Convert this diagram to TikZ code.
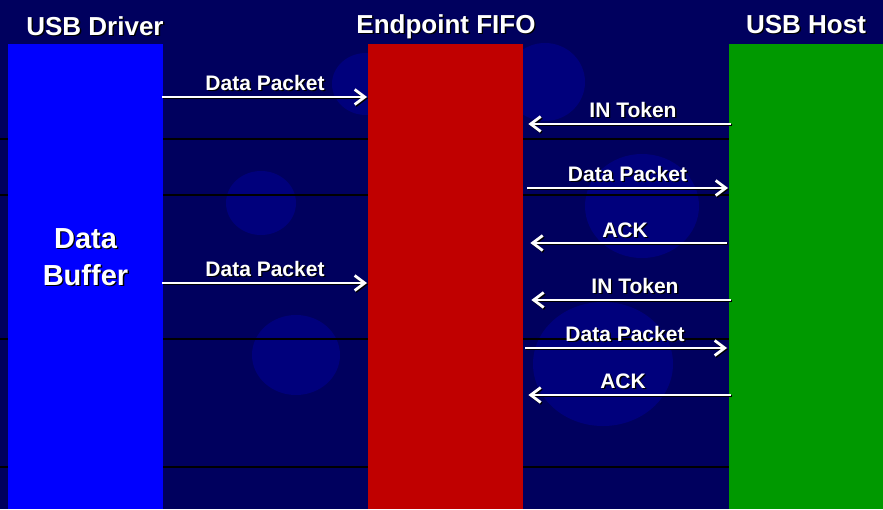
\documentclass[tikz,border=0pt]{standalone}
\usepackage{fontspec}
\setmainfont{Liberation Sans}
\usetikzlibrary{arrows.meta,calc}
\definecolor{bgnavy}{RGB}{0,0,94}
\definecolor{blob}{RGB}{0,0,124}
\definecolor{drvblue}{RGB}{0,0,255}
\definecolor{fifored}{RGB}{192,0,0}
\definecolor{hostgreen}{RGB}{0,153,0}
\newcommand{\shtext}[4]{%
  \node[#3, text=black, anchor=base] (#1s) at ($(#2)+(1.4,1.4)$) {#4};
  \node[#3, text=white, anchor=base] (#1) at (#2) {#4};}
\tikzset{
  colbox/.style={draw=none, inner sep=0pt, minimum width=155pt, minimum height=465pt, anchor=north west},
  ttl/.style={font=\fontsize{26}{28}\selectfont\bfseries, inner sep=0pt},
  lbl/.style={font=\fontsize{21}{23}\selectfont\bfseries, inner sep=0pt},
  big/.style={font=\fontsize{29}{37}\selectfont\bfseries, inner sep=0pt, align=center},
  msg/.style={draw=white, line width=2pt, -{Straight Barb[length=10pt,width=15pt,line width=2.8pt]}},
  msgsh/.style={draw=black, line width=2pt, -{Straight Barb[length=10pt,width=15pt,line width=2.8pt]}, transform canvas={shift={(1pt,-1.2pt)}}},
  grid/.style={draw=black, line width=1.3pt},
}
\begin{document}
\begin{tikzpicture}[x=1pt,y=-1pt]
\useasboundingbox (0,0) rectangle (883,509);
\fill[bgnavy] (0,0) rectangle (883,509);
% faint circles
\fill[blob] (366,84) ellipse (34 and 31);
\fill[blob] (545,82) ellipse (40 and 39);
\fill[blob] (261,203) ellipse (35 and 32);
\fill[blob] (296,355) ellipse (44 and 40);
\fill[blob] (642,206) ellipse (57 and 52);
\fill[blob] (603,364) ellipse (70 and 62);
% faint grid lines
\foreach \yy in {139,195,339,467} {\draw[grid] (0,\yy) -- (883,\yy);}
% columns
\node[colbox, fill=drvblue] (drv) at (8,44) {};
\node[colbox, fill=fifored] (fifo) at (368,44) {};
\node[colbox, fill=hostgreen] (host) at (729,44) {};
% titles
\shtext{tdrv}{95,35}{ttl}{USB Driver}
\shtext{tfifo}{446,33}{ttl}{Endpoint FIFO}
\shtext{thost}{806,33}{ttl}{USB Host}
\shtext{tbuf}{85.5,285}{big}{Data\\Buffer}
% message levels
\coordinate (r1) at (0,97);
\coordinate (r2) at (0,124);
\coordinate (r3) at (0,188);
\coordinate (r4) at (0,243);
\coordinate (r5) at (0,283);
\coordinate (r6) at (0,300);
\coordinate (r7) at (0,348);
\coordinate (r8) at (0,395);
% shadows
\draw[msgsh, shorten <=-1pt, shorten >=1pt] (drv.east |- r1) -- (fifo.west |- r1);
\draw[msgsh, shorten <=-2pt, shorten >=5pt] (host.west |- r2) -- (fifo.east |- r2);
\draw[msgsh, shorten <=4pt, shorten >=1pt] (fifo.east |- r3) -- (host.west |- r3);
\draw[msgsh, shorten <=2pt, shorten >=7pt] (host.west |- r4) -- (fifo.east |- r4);
\draw[msgsh, shorten <=-1pt, shorten >=1pt] (drv.east |- r5) -- (fifo.west |- r5);
\draw[msgsh, shorten <=-2pt, shorten >=8pt] (host.west |- r6) -- (fifo.east |- r6);
\draw[msgsh, shorten <=2pt, shorten >=2pt] (fifo.east |- r7) -- (host.west |- r7);
\draw[msgsh, shorten <=-2pt, shorten >=5pt] (host.west |- r8) -- (fifo.east |- r8);
% arrows
\draw[msg, shorten <=-1pt, shorten >=1pt] (drv.east |- r1) -- (fifo.west |- r1);
\draw[msg, shorten <=-2pt, shorten >=5pt] (host.west |- r2) -- (fifo.east |- r2);
\draw[msg, shorten <=4pt, shorten >=1pt] (fifo.east |- r3) -- (host.west |- r3);
\draw[msg, shorten <=2pt, shorten >=7pt] (host.west |- r4) -- (fifo.east |- r4);
\draw[msg, shorten <=-1pt, shorten >=1pt] (drv.east |- r5) -- (fifo.west |- r5);
\draw[msg, shorten <=-2pt, shorten >=8pt] (host.west |- r6) -- (fifo.east |- r6);
\draw[msg, shorten <=2pt, shorten >=2pt] (fifo.east |- r7) -- (host.west |- r7);
\draw[msg, shorten <=-2pt, shorten >=5pt] (host.west |- r8) -- (fifo.east |- r8);
% labels
\shtext{l1}{265,90}{lbl}{Data Packet}
\shtext{l2}{633,117}{lbl}{IN Token}
\shtext{l3}{627.5,181}{lbl}{Data Packet}
\shtext{l4}{625,237}{lbl}{ACK}
\shtext{l5}{265,276}{lbl}{Data Packet}
\shtext{l6}{635,293}{lbl}{IN Token}
\shtext{l7}{625,341}{lbl}{Data Packet}
\shtext{l8}{623,388}{lbl}{ACK}
\end{tikzpicture}
\end{document}
